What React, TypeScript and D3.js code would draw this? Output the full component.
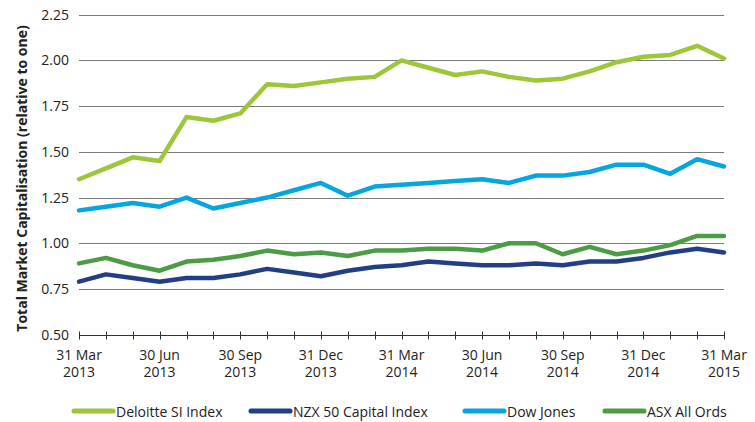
import React, { useRef, useEffect } from "react";
import * as d3 from "d3";

const months = [
  "31 Mar 2013", "30 Apr 2013", "31 May 2013", "30 Jun 2013", "31 Jul 2013", "31 Aug 2013",
  "30 Sep 2013", "31 Oct 2013", "30 Nov 2013", "31 Dec 2013", "31 Jan 2014", "28 Feb 2014",
  "31 Mar 2014", "30 Apr 2014", "31 May 2014", "30 Jun 2014", "31 Jul 2014", "31 Aug 2014",
  "30 Sep 2014", "31 Oct 2014", "30 Nov 2014", "31 Dec 2014", "31 Jan 2015", "28 Feb 2015",
  "31 Mar 2015",
];

const deloitte = [1.35, 1.41, 1.47, 1.45, 1.69, 1.67, 1.71, 1.87, 1.86, 1.88, 1.90, 1.91, 2.00,
  1.96, 1.92, 1.94, 1.91, 1.89, 1.90, 1.94, 1.99, 2.02, 2.03, 2.08, 2.01];
const nzx = [0.79, 0.83, 0.81, 0.79, 0.81, 0.81, 0.83, 0.86, 0.84, 0.82, 0.85, 0.87, 0.88,
  0.90, 0.89, 0.88, 0.88, 0.89, 0.88, 0.90, 0.90, 0.92, 0.95, 0.97, 0.95];
const dowJones = [1.18, 1.20, 1.22, 1.20, 1.25, 1.19, 1.22, 1.25, 1.29, 1.33, 1.26, 1.31, 1.32,
  1.33, 1.34, 1.35, 1.33, 1.37, 1.37, 1.39, 1.43, 1.43, 1.38, 1.46, 1.42];
const asx = [0.89, 0.92, 0.88, 0.85, 0.90, 0.91, 0.93, 0.96, 0.94, 0.95, 0.93, 0.96, 0.96,
  0.97, 0.97, 0.96, 1.00, 1.00, 0.94, 0.98, 0.94, 0.96, 0.99, 1.04, 1.04];

const yTicks = [0.5, 0.75, 1.0, 1.25, 1.5, 1.75, 2.0, 2.25];

const series = [
  { name: "Deloitte SI Index", values: deloitte, color: "#9dc63b" },
  { name: "NZX 50 Capital Index", values: nzx, color: "#223f85" },
  { name: "Dow Jones", values: dowJones, color: "#05a6e0" },
  { name: "ASX All Ords", values: asx, color: "#4c9b45" },
];

const legendX = [72, 249, 463, 603];

const FONT = "'Open Sans', sans-serif";

export default function App() {
  const ref = useRef<SVGSVGElement>(null);

  useEffect(() => {
    const svg = d3.select(ref.current);
    svg.selectAll("*").remove();

    const left = 79, right = 724, top = 14.7, bottom = 334.7;

    const x = d3.scalePoint<string>().domain(months).range([left, right]).padding(0);
    const y = d3.scaleLinear().domain([0.5, 2.25]).range([bottom, top]);

    // gridlines
    svg.append("g")
      .selectAll("line")
      .data(yTicks.filter((t) => t > 0.5))
      .enter()
      .append("line")
      .attr("x1", left)
      .attr("x2", right)
      .attr("y1", (d) => Math.round(y(d)) + 0.5)
      .attr("y2", (d) => Math.round(y(d)) + 0.5)
      .attr("stroke", "#7a7a7a")
      .attr("stroke-width", 1);

    // y labels
    svg.append("g")
      .selectAll("text")
      .data(yTicks)
      .enter()
      .append("text")
      .attr("x", 69)
      .attr("y", (d) => y(d) + 5)
      .attr("text-anchor", "end")
      .attr("font-family", FONT)
      .attr("font-size", 14)
      .attr("fill", "#222")
      .text((d) => d.toFixed(2));

    // x axis
    const axisY = Math.round(y(0.5)) + 0.5;
    svg.append("line")
      .attr("x1", left).attr("x2", right)
      .attr("y1", axisY).attr("y2", axisY)
      .attr("stroke", "#333");

    svg.append("g")
      .selectAll("line")
      .data(months)
      .enter()
      .append("line")
      .attr("x1", (d) => Math.round(x(d)!) + 0.5)
      .attr("x2", (d) => Math.round(x(d)!) + 0.5)
      .attr("y1", axisY - 4)
      .attr("y2", axisY + 4)
      .attr("stroke", "#333");

    const xl = svg.append("g")
      .selectAll("text")
      .data(months.filter((_, i) => i % 3 === 0))
      .enter()
      .append("text")
      .attr("text-anchor", "middle")
      .attr("font-family", FONT)
      .attr("font-size", 14)
      .attr("fill", "#222");
    xl.append("tspan")
      .attr("x", (d) => x(d)!)
      .attr("y", 360)
      .text((d) => d.split(" ").slice(0, 2).join(" "));
    xl.append("tspan")
      .attr("x", (d) => x(d)!)
      .attr("y", 377)
      .text((d) => d.split(" ")[2]);

    // y axis title
    svg.append("text")
      .attr("transform", "translate(26.5, 178.5) rotate(-90)")
      .attr("text-anchor", "middle")
      .attr("font-family", FONT)
      .attr("font-weight", "bold")
      .attr("font-size", 14)
      .attr("fill", "#222")
      .text("Total Market Capitalisation (relative to one)");

    // lines
    const line = d3.line<number>()
      .x((_, i) => x(months[i])!)
      .y((d) => y(d));

    svg.append("g")
      .selectAll("path")
      .data(series)
      .enter()
      .append("path")
      .attr("d", (s) => line(s.values))
      .attr("fill", "none")
      .attr("stroke", (s) => s.color)
      .attr("stroke-width", 4.5)
      .attr("stroke-linejoin", "round")
      .attr("stroke-linecap", "round");

    // legend
    const lg = svg.append("g")
      .selectAll("g")
      .data(series)
      .enter()
      .append("g")
      .attr("transform", (_, i) => `translate(${legendX[i]}, 411)`);
    lg.append("line")
      .attr("x1", 2).attr("x2", 41)
      .attr("y1", 0).attr("y2", 0)
      .attr("stroke", (s) => s.color)
      .attr("stroke-width", 5)
      .attr("stroke-linecap", "round");
    lg.append("text")
      .attr("x", 44)
      .attr("y", 5.5)
      .attr("font-family", FONT)
      .attr("font-size", 14)
      .attr("fill", "#222")
      .text((s) => s.name);
  }, []);

  return (
    <svg
      ref={ref}
      width={755}
      height={422}
      style={{ position: "absolute", left: 0, top: 0, background: "#fff" }}
    />
  );
}
